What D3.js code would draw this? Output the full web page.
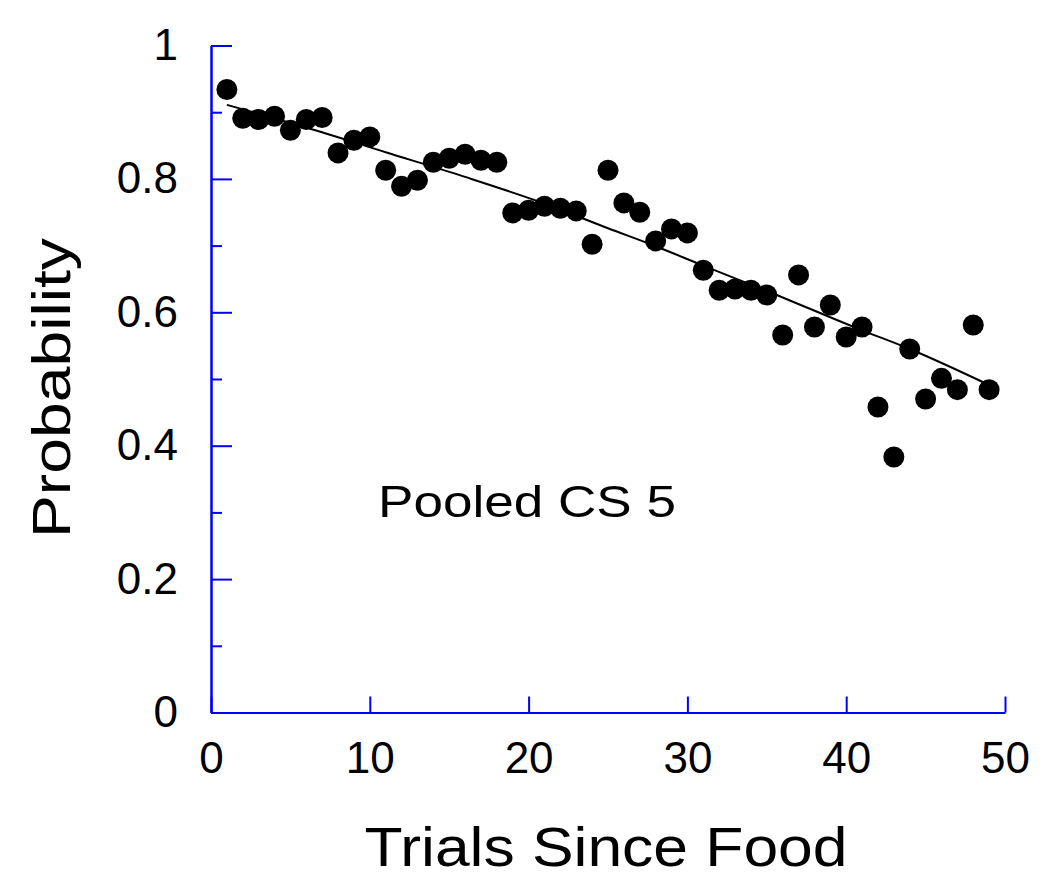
<!DOCTYPE html>
<html>
<head>
<meta charset="utf-8">
<script src="https://cdn.jsdelivr.net/npm/d3@7"></script>
<style>
  html, body { margin: 0; padding: 0; background: #fff; }
  svg { display: block; }
  text { font-family: "Liberation Sans", Arial, sans-serif; fill: #000; }
</style>
</head>
<body>
<svg id="chart" width="1050" height="894"></svg>
<script>
// ---- data ----
const trials = [1,2,3,4,5,6,7,8,9,10,11,12,13,14,15,16,17,18,19,20,21,22,23,24,25,
  26,27,28,29,30,31,32,33,34,35,36,37,38,39,40,41,42,43,44,45,46,47,48,49];
const probability = [0.934,0.891,0.889,0.894,0.873,0.889,0.892,0.839,0.858,0.863,
  0.813,0.789,0.798,0.825,0.831,0.837,0.828,0.825,0.749,0.753,
  0.759,0.756,0.752,0.702,0.813,0.764,0.750,0.707,0.725,0.719,
  0.663,0.633,0.635,0.633,0.626,0.566,0.656,0.578,0.611,0.563,
  0.578,0.458,0.383,0.545,0.470,0.501,0.484,0.581,0.484];
// fitted curve, read at selected trials
const fitTrials = [1,6,11,16,21,25,28,31,35,41,44,49];
const fitValues = [0.911,0.877,0.840,0.803,0.763,0.726,0.699,0.670,0.632,0.573,0.545,0.491];
const xTicks = [0,10,20,30,40,50];
const yTicks = [0,0.2,0.4,0.6,0.8,1];
const yMinorTicks = [0.1,0.3,0.5,0.7,0.9];
const xTitle = "Trials Since Food";
const yTitle = "Probability";
const annotation = "Pooled CS 5";

// ---- layout ----
const svg = d3.select("#chart");
const x = d3.scaleLinear().domain([0, 50]).range([211, 1005]);
const y = d3.scaleLinear().domain([0, 1]).range([712.5, 45.5]);
const axisColor = "#0000ff";

// fitted line
const line = d3.line().x((d, i) => x(fitTrials[i])).y(d => y(d)).curve(d3.curveMonotoneX);
svg.append("path")
  .attr("d", line(fitValues))
  .attr("fill", "none")
  .attr("stroke", "#000")
  .attr("stroke-width", 2);

// points
svg.append("g").selectAll("circle")
  .data(probability)
  .join("circle")
  .attr("cx", (d, i) => x(trials[i]))
  .attr("cy", d => y(d))
  .attr("r", 10.5)
  .attr("fill", "#000");

// y axis minor ticks
const yMinor = svg.append("g").attr("transform", `translate(${x(0)},0)`)
  .call(d3.axisLeft(y).tickValues(yMinorTicks).tickSizeInner(-11).tickSizeOuter(0).tickFormat(""));
// y axis major
const yAx = svg.append("g").attr("transform", `translate(${x(0)},0)`)
  .call(d3.axisLeft(y).tickValues(yTicks).tickSizeInner(-21).tickSizeOuter(0)
    .tickPadding(33).tickFormat(d => d === 0 || d === 1 ? d3.format("d")(d) : d3.format(".1f")(d)));
// x axis
const xAx = svg.append("g").attr("transform", `translate(0,${y(0)})`)
  .call(d3.axisBottom(x).tickValues(xTicks).tickSizeInner(-16).tickSizeOuter(0).tickPadding(29));

[yMinor, yAx, xAx].forEach(g => {
  g.selectAll("path.domain").attr("stroke", axisColor).attr("stroke-width", 2);
  g.selectAll(".tick line").attr("stroke", axisColor).attr("stroke-width", 2);
  g.selectAll(".tick text").attr("font-size", 44)
    .attr("font-family", "'Liberation Sans', Arial, sans-serif").attr("fill", "#000");
});

// titles
svg.append("text")
  .attr("x", (x(0) + x(50)) / 2 - 2)
  .attr("y", 866)
  .attr("text-anchor", "middle")
  .attr("font-size", 56)
  .attr("textLength", 483)
  .attr("lengthAdjust", "spacingAndGlyphs")
  .text(xTitle);

svg.append("text")
  .attr("transform", `translate(70,${(238 + 538) / 2}) rotate(-90)`)
  .attr("text-anchor", "middle")
  .attr("font-size", 54)
  .attr("textLength", 300)
  .attr("lengthAdjust", "spacingAndGlyphs")
  .text(yTitle);

svg.append("text")
  .attr("x", 378)
  .attr("y", 517)
  .attr("font-size", 44)
  .attr("textLength", 298)
  .attr("lengthAdjust", "spacingAndGlyphs")
  .text(annotation);
</script>
</body>
</html>
